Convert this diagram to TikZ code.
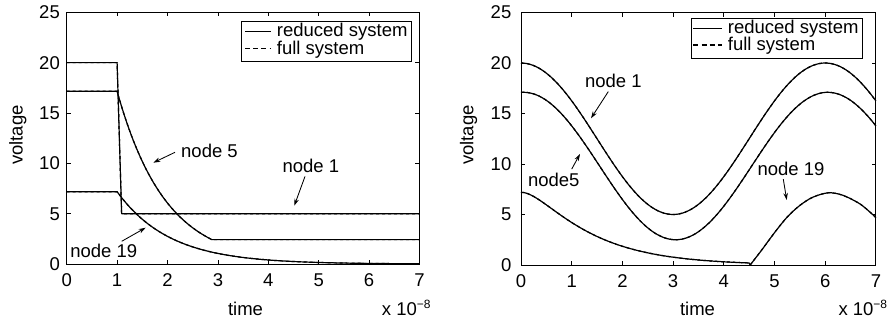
\documentclass[tikz,border=0pt]{standalone}
\usepackage{fontspec}
\setmainfont{Liberation Sans}
\usetikzlibrary{arrows.meta}
\begin{document}
\begin{tikzpicture}[x=1pt,y=-1pt,
  lbl/.style={font=\fontsize{18.5}{20}\selectfont, inner sep=0pt, text depth=0pt},
  curve/.style={line width=1.2pt, line join=round},
  frame/.style={line width=1pt},
  tickmark/.style={line width=0.8pt},
  legline/.style={line width=1.1pt},
  pointer/.style={line width=0.85pt, -{Stealth[length=7pt,width=4.5pt]}},
]
\useasboundingbox (0,0) rectangle (887,322);
\fill[white] (0,0) rectangle (887,322);

% ---------------- left panel: step input ----------------
\begin{scope}[shift={(66.7,264)}, x=50.4pt, y=10.07pt]
  \draw[frame] (0,0) rectangle (7,25);
  \foreach \t in {1,...,6} {
    \draw[tickmark] (\t,0) -- (\t,0.4);
    \draw[tickmark] (\t,25) -- (\t,24.6);
  }
  \foreach \v in {5,10,15,20} {
    \draw[tickmark] (0,\v) -- (0.08,\v);
    \draw[tickmark] (7,\v) -- (6.92,\v);
  }
  \foreach \t in {0,...,7}
    \node[lbl, anchor=base] (lx\t) at (\t,0) [yshift=-22.7pt] {\t};
  \foreach \v in {0,5,...,25}
    \node[lbl, anchor=east] (ly\v) at (0,\v) [xshift=-6.7pt] {\v};
  % reduced (solid) and full (dashed) responses coincide
  \foreach \ls in {solid,dashed} {
    \draw[curve,\ls] (0,20) -- (1,20) -- (1.09,5) -- (7,5);
    \draw[curve,\ls] (0,17.15) -- (1,17.15)
      -- plot[domain=1:2.88, samples=60] (\x,{17.15*exp(-(\x-1)/0.96)}) -- (7,2.42);
    \draw[curve,\ls] (0,7.18) -- (1,7.18)
      -- plot[domain=1:7, samples=80] (\x,{7.18*exp(-(\x-1)/1.04)});
  }
\end{scope}

\node[lbl, rotate=90] (lvolt) at (15.8,135) {voltage};
\node[lbl, anchor=base] (ltime) at (245.5,315) {time};
\node[lbl, anchor=base west] (lexp) at (381.7,315.7) {x 10\raisebox{7.5pt}{\fontsize{12}{12}\selectfont −8}};

% legend
\draw[frame] (241.7,21) rectangle (411,61);
\draw[legline] (245,31.7) -- (270.7,31.7);
\draw[legline, dash pattern=on 5pt off 3.2pt] (245,48.3) -- (270.7,48.3);
\node[lbl, anchor=base west] (lleg1) at (276.7,36.3) {reduced system};
\node[lbl, anchor=base west] (lleg2) at (276.7,54) {full system};

% annotations
\node[lbl] (ln5) at (209.5,150.5) {node 5};
\coordinate (ln5tip) at (153.3,162.7);
\draw[pointer] ([xshift=-6pt,yshift=-1.8pt]ln5.west) -- (ln5tip);
\node[lbl] (ln1) at (310.8,165.5) {node 1};
\coordinate (ln1tip) at (294.3,205.7);
\draw[pointer] ([xshift=-5.8pt,yshift=-4pt]ln1.south) -- (ln1tip);
\node[lbl] (ln19) at (103.8,250.8) {node 19};
\coordinate (ln19tip) at (145.7,227.7);
\draw[pointer] ([xshift=17.9pt,yshift=2.6pt]ln19.north) -- (ln19tip);

% ---------------- right panel: sinusoidal input ----------------
\begin{scope}[shift={(521,265)}, x=50.7pt, y=10.1pt]
  \draw[frame] (0,0) rectangle (7,25);
  \foreach \t in {1,...,6} {
    \draw[tickmark] (\t,0) -- (\t,0.4);
    \draw[tickmark] (\t,25) -- (\t,24.6);
  }
  \foreach \v in {5,10,15,20} {
    \draw[tickmark] (0,\v) -- (0.08,\v);
    \draw[tickmark] (7,\v) -- (6.92,\v);
  }
  \foreach \t in {0,...,7}
    \node[lbl, anchor=base] (rx\t) at (\t,0) [yshift=-22.7pt] {\t};
  \foreach \v in {0,5,...,25}
    \node[lbl, anchor=east] (ry\v) at (0,\v) [xshift=-9.5pt] {\v};
  \foreach \ls in {solid,dashed} {
    \draw[curve,\ls] plot[domain=0:7, samples=120] (\x,{12.5+7.5*cos(60*\x)});
    \draw[curve,\ls] plot[domain=0:7, samples=120] (\x,{9.8+7.3*cos(60*(\x-0.05))});
    \draw[curve,\ls] plot[domain=0:4.5, samples=90] (\x,{7.2*exp(-\x*\x/(0.77+1.09*\x))})
      -- plot[smooth] coordinates {(4.52,0) (4.75,1.5) (5,3.2) (5.25,4.75)
        (5.5,5.9) (5.75,6.7) (6.06,7.15) (6.35,6.9) (6.7,6.0) (7,4.7)};
  }
\end{scope}

\node[lbl, rotate=90] (rvolt) at (466.7,135) {voltage};
\node[lbl, anchor=base] (rtime) at (697.5,315) {time};
\node[lbl, anchor=base west] (rexp) at (838.3,315.7) {x 10\raisebox{7.5pt}{\fontsize{12}{12}\selectfont −8}};

% legend
\draw[frame] (691.7,18.3) rectangle (862.7,58.3);
\draw[legline] (693.3,28.3) -- (721.7,28.3);
\draw[legline, dash pattern=on 5pt off 3.2pt] (693.3,45) -- (721.7,45);
\node[lbl, anchor=base west] (rleg1) at (727.7,33) {reduced system};
\node[lbl, anchor=base west] (rleg2) at (727.7,50.7) {full system};

% annotations
\node[lbl] (rn1) at (613.3,81.2) {node 1};
\coordinate (rn1tip) at (591,118.3);
\draw[pointer] ([xshift=-5pt,yshift=-3.5pt]rn1.south) -- (rn1tip);
\node[lbl] (rn5) at (553.8,180) {node5};
\coordinate (rn5tip) at (580,154);
\draw[pointer] ([xshift=17.9pt,yshift=4pt]rn5.north) -- (rn5tip);
\node[lbl] (rn19) at (791,169) {node 19};
\coordinate (rn19tip) at (786.7,200);
\draw[pointer] ([xshift=-7.7pt,yshift=-3.3pt]rn19.south) -- (rn19tip);
\end{tikzpicture}
\end{document}
